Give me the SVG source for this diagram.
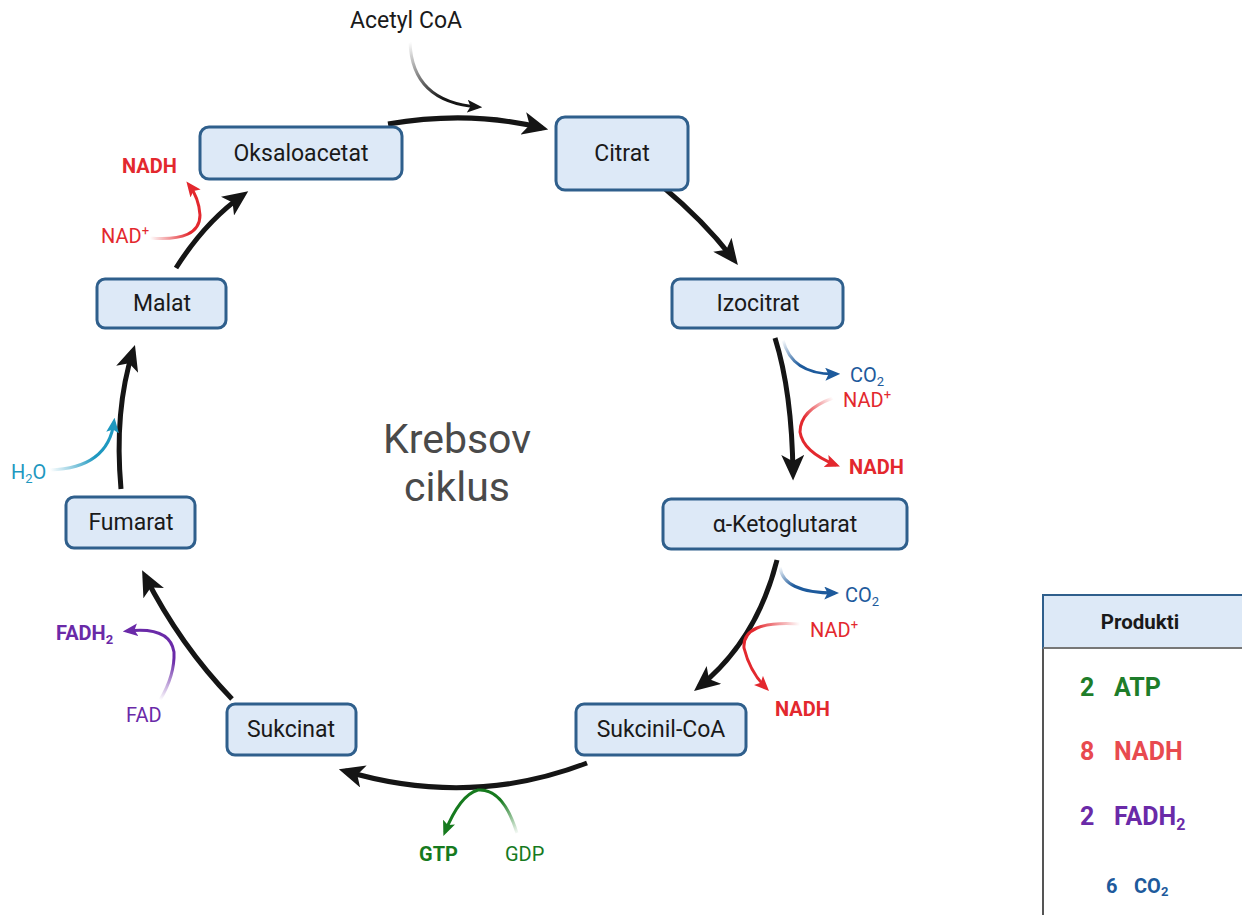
<svg xmlns="http://www.w3.org/2000/svg" width="1242" height="915" viewBox="0 0 1242 915">
<style>
text{font-family:Roboto,"Liberation Sans",sans-serif}
.node rect{fill:#dde9f7;stroke:#2f5f8c;stroke-width:3}
.node text{font-size:23px;fill:#1a1a1a;text-anchor:middle}
.main{fill:none;stroke:#151515;stroke-width:5}
.side{fill:none;stroke-width:3}
.red{fill:#e3282e}
.blue{fill:#1d5a9c}
.green{fill:#167a1e}
.purple{fill:#6a2aa8}
.teal{fill:#1e98c0}
.lbl{font-size:20px}
.b{font-weight:bold}
.pr{font-size:25px;font-weight:bold}
</style>
<defs>
<marker id="mk" markerUnits="userSpaceOnUse" viewBox="0 0 20 18" markerWidth="26" markerHeight="23" refX="15" refY="9" orient="auto"><path d="M0,0 L20,9 L0,18 L5,9 z" fill="#151515"/></marker>
<marker id="mkA" markerUnits="userSpaceOnUse" viewBox="0 0 14 12" markerWidth="15" markerHeight="13" refX="10" refY="6" orient="auto"><path d="M0,0 L14,6 L0,12 L3,6 z" fill="#151515"/></marker>
<marker id="mkR" markerUnits="userSpaceOnUse" viewBox="0 0 14 12" markerWidth="15" markerHeight="13" refX="10" refY="6" orient="auto"><path d="M0,0 L14,6 L0,12 L3,6 z" fill="#e3282e"/></marker>
<marker id="mkB" markerUnits="userSpaceOnUse" viewBox="0 0 14 12" markerWidth="15" markerHeight="13" refX="10" refY="6" orient="auto"><path d="M0,0 L14,6 L0,12 L3,6 z" fill="#1d5a9c"/></marker>
<marker id="mkG" markerUnits="userSpaceOnUse" viewBox="0 0 14 12" markerWidth="15" markerHeight="13" refX="10" refY="6" orient="auto"><path d="M0,0 L14,6 L0,12 L3,6 z" fill="#167a1e"/></marker>
<marker id="mkP" markerUnits="userSpaceOnUse" viewBox="0 0 14 12" markerWidth="15" markerHeight="13" refX="10" refY="6" orient="auto"><path d="M0,0 L14,6 L0,12 L3,6 z" fill="#6a2aa8"/></marker>
<marker id="mkT" markerUnits="userSpaceOnUse" viewBox="0 0 14 12" markerWidth="15" markerHeight="13" refX="10" refY="6" orient="auto"><path d="M0,0 L14,6 L0,12 L3,6 z" fill="#1e98c0"/></marker>
<linearGradient id="gAc" gradientUnits="userSpaceOnUse" x1="410" y1="42" x2="440" y2="100"><stop offset="0" stop-color="#151515" stop-opacity="0"/><stop offset="1" stop-color="#151515"/></linearGradient>
<linearGradient id="gR1" gradientUnits="userSpaceOnUse" x1="150" y1="238" x2="190" y2="236"><stop offset="0" stop-color="#e3282e" stop-opacity="0"/><stop offset="1" stop-color="#e3282e"/></linearGradient>
<linearGradient id="gR2" gradientUnits="userSpaceOnUse" x1="833" y1="398" x2="805" y2="420"><stop offset="0" stop-color="#e3282e" stop-opacity="0"/><stop offset="1" stop-color="#e3282e"/></linearGradient>
<linearGradient id="gR3" gradientUnits="userSpaceOnUse" x1="800" y1="624" x2="755" y2="628"><stop offset="0" stop-color="#e3282e" stop-opacity="0"/><stop offset="1" stop-color="#e3282e"/></linearGradient>
<linearGradient id="gB1" gradientUnits="userSpaceOnUse" x1="783" y1="340" x2="797" y2="367"><stop offset="0" stop-color="#1d5a9c" stop-opacity="0"/><stop offset="1" stop-color="#1d5a9c"/></linearGradient>
<linearGradient id="gB2" gradientUnits="userSpaceOnUse" x1="780" y1="567" x2="790" y2="588"><stop offset="0" stop-color="#1d5a9c" stop-opacity="0"/><stop offset="1" stop-color="#1d5a9c"/></linearGradient>
<linearGradient id="gT" gradientUnits="userSpaceOnUse" x1="50" y1="470" x2="95" y2="458"><stop offset="0" stop-color="#1e98c0" stop-opacity="0"/><stop offset="1" stop-color="#1e98c0"/></linearGradient>
<linearGradient id="gP" gradientUnits="userSpaceOnUse" x1="160" y1="700" x2="173" y2="660"><stop offset="0" stop-color="#6a2aa8" stop-opacity="0"/><stop offset="1" stop-color="#6a2aa8"/></linearGradient>
<linearGradient id="gG" gradientUnits="userSpaceOnUse" x1="517" y1="835" x2="500" y2="800"><stop offset="0" stop-color="#167a1e" stop-opacity="0"/><stop offset="1" stop-color="#167a1e"/></linearGradient>
</defs>
<rect width="1242" height="915" fill="#ffffff"/>

<g id="connectors">
<path class="main" d="M388,124 Q470,110 542,128" marker-end="url(#mk)"/>
<path class="main" d="M663,187 Q705,222 734,260" marker-end="url(#mk)"/>
<path class="main" d="M775,338 Q792,392 793,474" marker-end="url(#mk)"/>
<path class="main" d="M777,560 Q757,640 699,687" marker-end="url(#mk)"/>
<path class="main" d="M587,763 Q470,808 345,771" marker-end="url(#mk)"/>
<path class="main" d="M232,699 Q180,645 145,576" marker-end="url(#mk)"/>
<path class="main" d="M121,489 Q114,410 133,351" marker-end="url(#mk)"/>
<path class="main" d="M176,268 Q205,222 243,195" marker-end="url(#mk)"/>

<path class="side" stroke="url(#gAc)" stroke-width="2.5" d="M410,42 Q412,102 478,107" marker-end="url(#mkA)"/>
<path class="side" stroke="url(#gR1)" d="M150,238 Q200,242 200,215 Q199,198 189,185" marker-end="url(#mkR)"/>
<path class="side" stroke="url(#gB1)" d="M783,340 Q792,375 836,374" marker-end="url(#mkB)"/>
<path class="side" stroke="url(#gR2)" d="M833,398 Q800,410 800,432 Q803,452 836,465" marker-end="url(#mkR)"/>
<path class="side" stroke="url(#gB2)" d="M780,567 Q783,593 835,593" marker-end="url(#mkB)"/>
<path class="side" stroke="url(#gR3)" d="M800,624 Q742,620 744,648 Q750,672 766,688" marker-end="url(#mkR)"/>
<path class="side" stroke="url(#gT)" d="M50,470 Q108,468 114,422" marker-end="url(#mkT)"/>
<path class="side" stroke="url(#gP)" d="M160,700 Q175,675 174,652 Q170,626 127,631" marker-end="url(#mkP)"/>
<path class="side" stroke="url(#gG)" d="M517,833 Q503,788 478,790 Q460,795 445,832" marker-end="url(#mkG)"/>
</g>

<g id="n-oksaloacetat" class="node"><rect x="200" y="127" width="202" height="52" rx="9"/><text x="301" y="161">Oksaloacetat</text></g>
<g id="n-citrat" class="node"><rect x="556" y="117" width="132" height="73" rx="9"/><text x="622" y="161">Citrat</text></g>
<g id="n-izocitrat" class="node"><rect x="672" y="279" width="171" height="49" rx="8"/><text x="758" y="311">Izocitrat</text></g>
<g id="n-aketoglutarat" class="node"><rect x="663" y="499" width="244" height="50" rx="8"/><text x="785" y="532">α-Ketoglutarat</text></g>
<g id="n-sukcinilcoa" class="node"><rect x="576" y="704" width="170" height="51" rx="8"/><text x="661" y="737">Sukcinil-CoA</text></g>
<g id="n-sukcinat" class="node"><rect x="227" y="704" width="129" height="51" rx="8"/><text x="291" y="737">Sukcinat</text></g>
<g id="n-fumarat" class="node"><rect x="66" y="497" width="129" height="51" rx="8"/><text x="131" y="530">Fumarat</text></g>
<g id="n-malat" class="node"><rect x="97" y="279" width="129" height="49" rx="8"/><text x="162" y="311">Malat</text></g>

<g id="labels">
<text x="406" y="28" font-size="23" fill="#1a1a1a" text-anchor="middle">Acetyl CoA</text>
<text x="457" y="453" font-size="41" fill="#4a4a4a" text-anchor="middle">Krebsov</text>
<text x="457" y="501" font-size="41" fill="#4a4a4a" text-anchor="middle">ciklus</text>

<text x="122" y="173" class="lbl b red">NADH</text>
<text x="101" y="243" class="lbl red">NAD<tspan font-size="13" dy="-8">+</tspan></text>

<text x="850" y="382" class="lbl blue">CO<tspan font-size="13" dy="4">2</tspan></text>
<text x="843" y="407" class="lbl red">NAD<tspan font-size="13" dy="-8">+</tspan></text>
<text x="849" y="474" class="lbl b red">NADH</text>

<text x="845" y="602" class="lbl blue">CO<tspan font-size="13" dy="4">2</tspan></text>
<text x="810" y="637" class="lbl red">NAD<tspan font-size="13" dy="-8">+</tspan></text>
<text x="775" y="716" class="lbl b red">NADH</text>

<text x="11" y="479" class="lbl teal">H<tspan font-size="13" dy="4">2</tspan><tspan dy="-4">O</tspan></text>
<text x="56" y="640" class="lbl b purple">FADH<tspan font-size="13" dy="4">2</tspan></text>
<text x="126" y="722" class="lbl purple">FAD</text>
<text x="419" y="861" class="lbl b green">GTP</text>
<text x="505" y="861" class="lbl green">GDP</text>
</g>

<g id="produkti">
<rect x="1043" y="595" width="205" height="330" fill="#ffffff" stroke="#555" stroke-width="2"/>
<rect x="1043" y="595" width="205" height="53" fill="#dde9f7" stroke="#2f5f8c" stroke-width="2"/>
<line x1="1043" y1="648" x2="1242" y2="648" stroke="#777" stroke-width="2"/>
<text x="1140" y="629" font-size="20.5" font-weight="bold" fill="#1a1a1a" text-anchor="middle">Produkti</text>
<text x="1080" y="696" class="pr" fill="#1e7d2a">2</text>
<text x="1114" y="696" class="pr" fill="#1e7d2a">ATP</text>
<text x="1080" y="760" class="pr" fill="#e84a4f">8</text>
<text x="1114" y="760" class="pr" fill="#e84a4f">NADH</text>
<text x="1080" y="825" class="pr" fill="#6a2aa8">2</text>
<text x="1114" y="825" class="pr" fill="#6a2aa8">FADH<tspan font-size="16" dy="5">2</tspan></text>
<text x="1106" y="893" font-size="20" font-weight="bold" fill="#1d5a9c">6</text>
<text x="1134" y="893" font-size="20" font-weight="bold" fill="#1d5a9c">CO<tspan font-size="13" dy="3">2</tspan></text>
</g>
</svg>
